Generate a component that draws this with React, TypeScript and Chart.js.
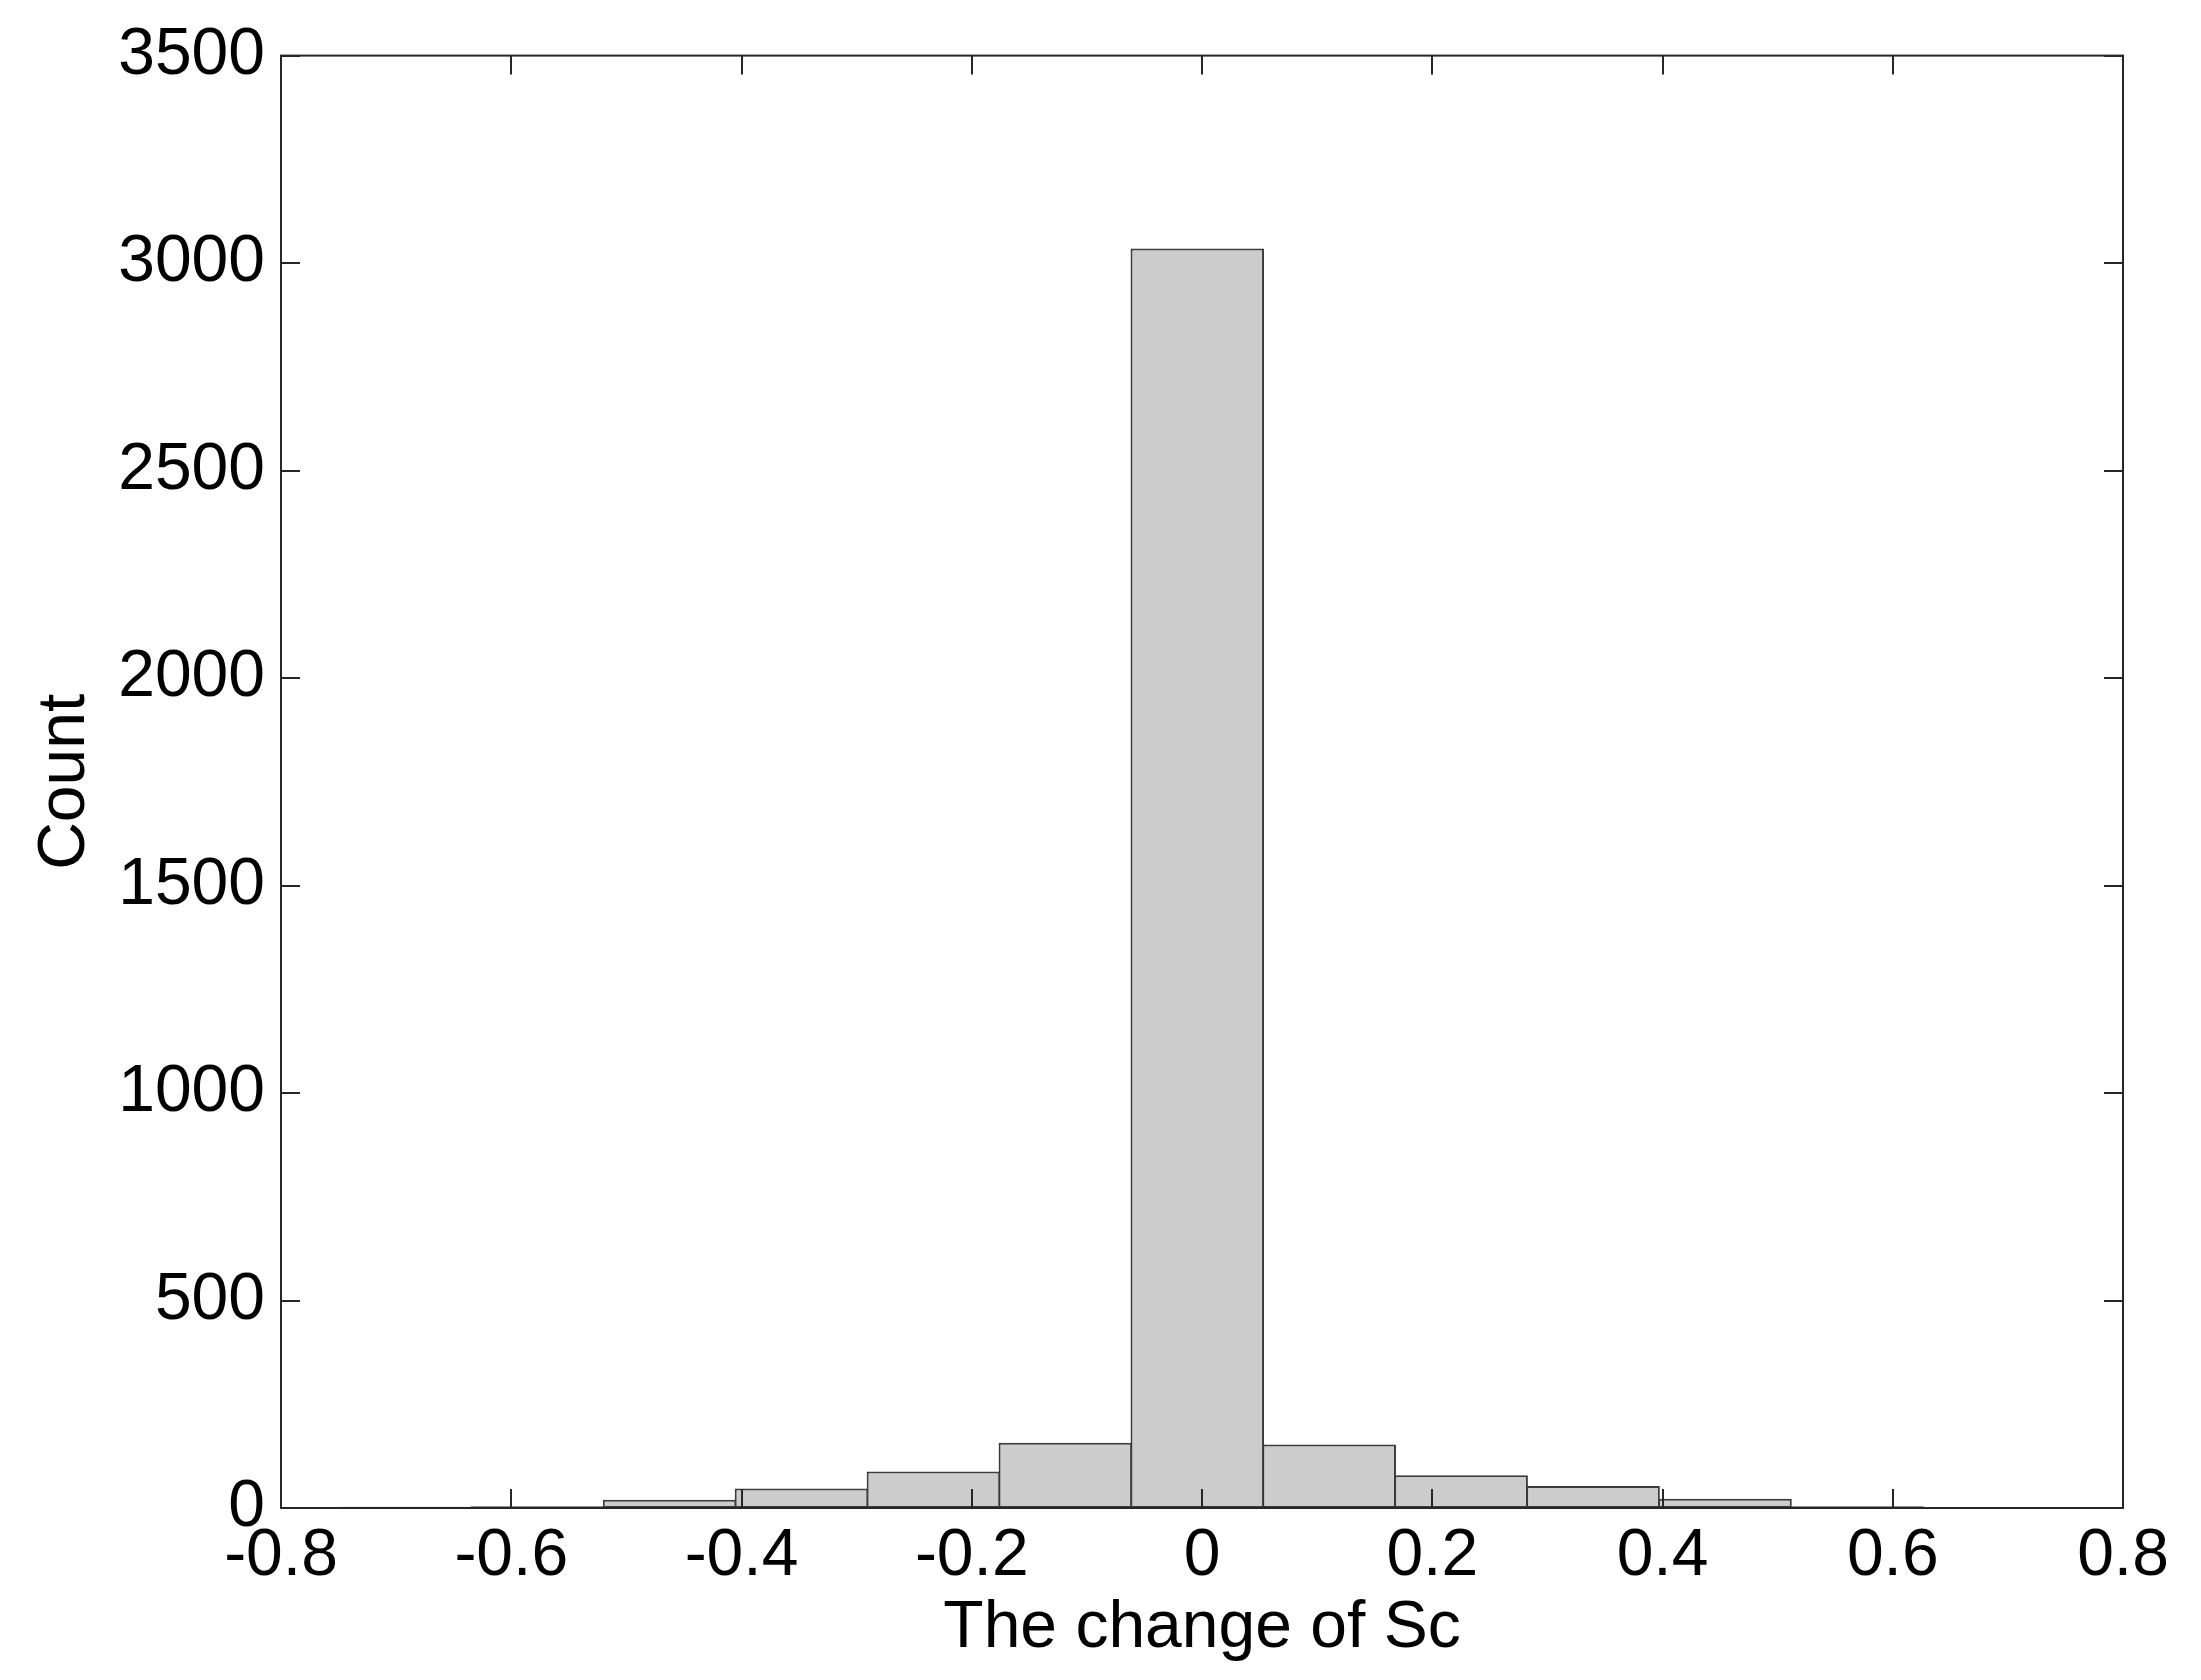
import React, { useEffect, useRef } from "react";
import { Chart, registerables } from "chart.js";

Chart.register(...registerables);

// Histogram bin centers (change of Sc) and counts
const binCenters = [-0.6917, -0.5771, -0.4625, -0.3479, -0.2333, -0.1187, -0.0041, 0.1105, 0.2251, 0.3397, 0.4543, 0.5689];
const counts = [3, 4, 20, 47, 88, 157, 3035, 153, 79, 53, 22, 4];

const xTickValues = [-0.8, -0.6, -0.4, -0.2, 0, 0.2, 0.4, 0.6, 0.8];
const yTickValues = [0, 500, 1000, 1500, 2000, 2500, 3000, 3500];

const xTitle = "The change of Sc";
const yTitle = "Count";

const FONT = "'Liberation Sans', Arial, Helvetica, sans-serif";

const framePlugin = {
  id: "matlabFrame",
  beforeDraw(chart: any) {
    const ctx = chart.ctx;
    ctx.save();
    ctx.fillStyle = "#ffffff";
    ctx.fillRect(0, 0, chart.width, chart.height);
    ctx.restore();
  },
  afterDatasetsDraw(chart: any) {
    const { ctx, chartArea } = chart;
    const xs = chart.scales.x;
    const ys = chart.scales.y;
    const { left, right, top, bottom } = chartArea;
    const tl = 19;
    ctx.save();
    ctx.strokeStyle = "#262626";
    ctx.lineWidth = 2;
    ctx.beginPath();
    for (const v of xTickValues) {
      const px = Math.round(xs.getPixelForValue(v));
      ctx.moveTo(px, bottom);
      ctx.lineTo(px, bottom - tl);
      ctx.moveTo(px, top);
      ctx.lineTo(px, top + tl);
    }
    for (const v of yTickValues) {
      const py = Math.round(ys.getPixelForValue(v));
      ctx.moveTo(left, py);
      ctx.lineTo(left + tl, py);
      ctx.moveTo(right, py);
      ctx.lineTo(right - tl, py);
    }
    ctx.stroke();
    ctx.strokeRect(left, top, right - left, bottom - top);
    ctx.restore();
  },
};

export default function App() {
  const ref = useRef<HTMLCanvasElement | null>(null);

  useEffect(() => {
    const canvas = ref.current;
    if (!canvas) return;
    const chart = new Chart(canvas, {
      type: "bar",
      data: {
        datasets: [
          {
            data: binCenters.map((c, i) => ({ x: c, y: counts[i] })),
            backgroundColor: "#cccccc",
            borderColor: "#3a3a3a",
            borderWidth: 2,
            borderSkipped: false,
            barPercentage: 1.012,
            categoryPercentage: 1,
          },
        ],
      },
      options: {
        responsive: false,
        animation: false,
        devicePixelRatio: 1,
        layout: { padding: { top: 55, right: 78, left: 0, bottom: 0 } },
        plugins: {
          legend: { display: false },
          tooltip: { enabled: false },
        },
        scales: {
          x: {
            type: "linear",
            offset: false,
            min: -0.8,
            max: 0.8,
            afterFit: (scale: any) => {
              scale.height = 172;
            },
            afterBuildTicks: (scale: any) => {
              scale.ticks = xTickValues.map((v) => ({ value: v }));
            },
            grid: { display: false, drawTicks: false },
            border: { display: false },
            ticks: {
              padding: 9,
              color: "#000000",
              font: { family: FONT, size: 66 },
              maxRotation: 0,
              autoSkip: false,
              callback: (v: any) => {
                const n = Math.round(Number(v) * 10) / 10;
                return n === 0 ? "0" : String(n);
              },
            },
            title: {
              display: true,
              text: xTitle,
              color: "#000000",
              font: { family: FONT, size: 66 },
              padding: { top: 0, bottom: 12 },
            },
          },
          y: {
            type: "linear",
            min: 0,
            max: 3500,
            afterFit: (scale: any) => {
              scale.width = 281;
            },
            afterBuildTicks: (scale: any) => {
              scale.ticks = yTickValues.map((v) => ({ value: v }));
            },
            grid: { display: false, drawTicks: false },
            border: { display: false },
            ticks: {
              padding: 16,
              color: "#000000",
              font: { family: FONT, size: 66 },
              autoSkip: false,
              callback: (v: any) => String(v),
            },
            title: {
              display: true,
              text: yTitle,
              color: "#000000",
              font: { family: FONT, size: 66 },
              padding: { top: 26, bottom: 0 },
            },
          },
        },
      },
      plugins: [framePlugin],
    } as any);
    return () => chart.destroy();
  }, []);

  return (
    <div style={{ position: "absolute", left: 0, top: 0, width: 2201, height: 1680 }}>
      <canvas ref={ref} width={2201} height={1680} style={{ display: "block", width: 2201, height: 1680 }} />
    </div>
  );
}
